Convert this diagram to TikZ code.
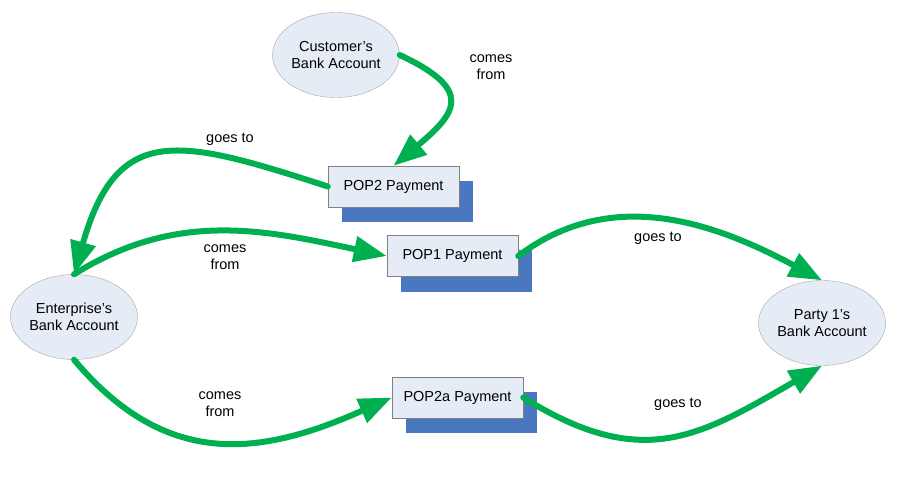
\documentclass[tikz,border=0pt]{standalone}
\usepackage{fontspec}
\setmainfont{Liberation Sans}
\usetikzlibrary{arrows.meta,shadows,shapes.geometric}
\definecolor{flowgreen}{HTML}{00B050}
\definecolor{boxfill}{HTML}{E6ECF6}
\definecolor{shadowblue}{HTML}{4A78C0}
\definecolor{edgegray}{HTML}{808080}

\begin{document}
\begin{tikzpicture}[x=1pt,y=1pt,
  font=\fontsize{14.5}{17}\selectfont,
  account/.style={ellipse,draw=edgegray!70,fill=boxfill,minimum width=127pt,minimum height=85pt,inner sep=0pt,align=center},
  payment/.style={rectangle,draw=edgegray,fill=boxfill,minimum width=131pt,minimum height=41pt,inner sep=0pt,
    drop shadow={shadow xshift=14pt,shadow yshift=-15pt,fill=shadowblue,opacity=1}},
  flow/.style={draw=flowgreen,line width=6pt,line cap=round,-{Triangle[length=33pt,width=25pt]}},
  tag/.style={align=center}]
\useasboundingbox (0,0) rectangle (897,-497);

%bank accounts
\node[account] (cust) at (336,-55) {Customer's\\Bank Account};
\node[account] (ent) at (74,-317) {Enterprise's\\Bank Account};
\node[account] (party) at (822,-323) {Party 1's\\Bank Account};

%payments
\foreach \n/\x/\y/\t in {pop2/393.5/-186.5/POP2, pop1/452.5/-256/POP1, pop2a/457.5/-397.5/POP2a}
  \node[payment] (\n) at (\x,\y) {\t\ Payment};

\draw[flow] (cust.east) to[out=-25,in=40,looseness=1.9] (pop2.north);
\draw[flow] (pop2.west) to[out=162,in=74,looseness=1.5] (ent.north);
\draw[flow] (ent.north) to[out=32,in=168] (pop1.west);
\draw[flow] (pop1.east) to[out=37,in=152] (party.north);
\draw[flow] (ent.south) to[out=-50,in=204,looseness=1.15] (pop2a.west);
\draw[flow] (pop2a.east) to[out=-32,in=210,looseness=1.2] (party.south);

\node[tag] (from1) at (491,-67) {comes\\from};
\node[tag] (to1) at (230,-139) {goes to};
\node[tag] (from2) at (225,-257) {comes\\from};
\node[tag] (to2) at (658,-238) {goes to};
\node[tag] (from3) at (220,-404) {comes\\from};
\node[tag] (to3) at (678,-404) {goes to};
\end{tikzpicture}
\end{document}
